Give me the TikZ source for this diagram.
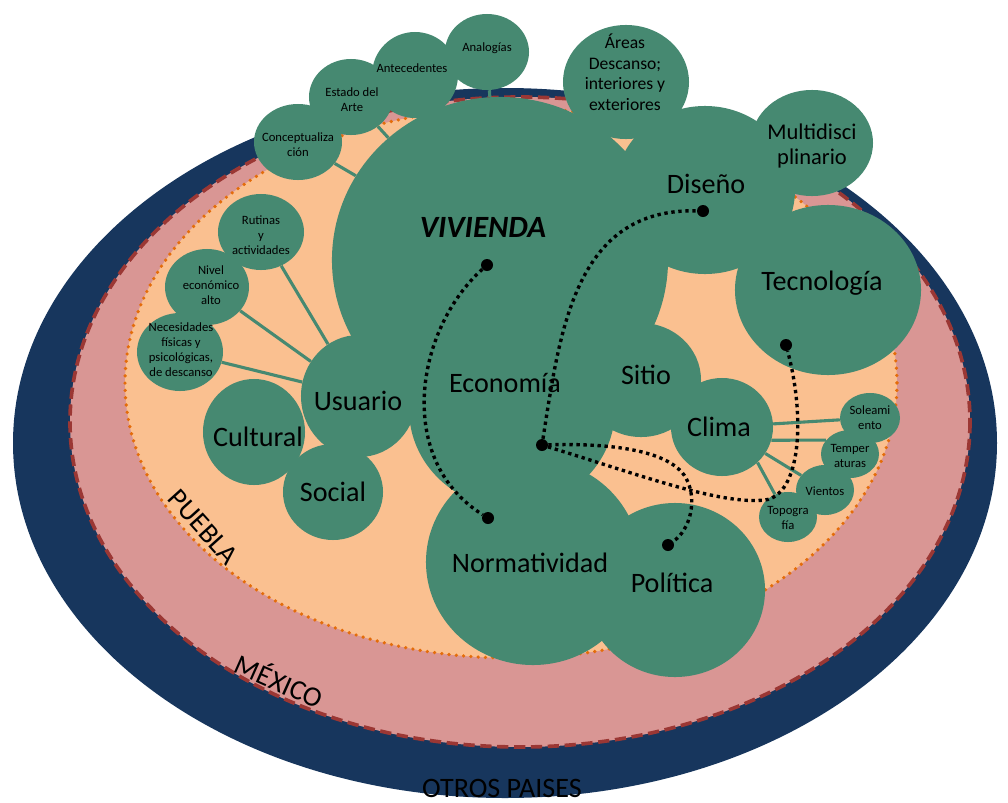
\documentclass[tikz,border=0pt]{standalone}
\usepackage{fontspec}
\setmainfont{Carlito}
\usetikzlibrary{shapes.geometric}

\definecolor{verde}{RGB}{70,137,113}
\definecolor{marino}{RGB}{23,54,93}
\definecolor{rosa}{RGB}{217,150,148}
\definecolor{durazno}{RGB}{250,192,144}
\definecolor{naranja}{RGB}{228,108,10}
\definecolor{vino}{RGB}{155,55,52}

\begin{document}
\begin{tikzpicture}[x=0.025cm,y=-0.025cm,
	burbuja/.style 2 args={ellipse,fill=verde,inner sep=0pt,minimum width=#1*0.5mm,minimum height=#2*0.5mm},
	enlace/.style={verde,line width=2.2pt},
	punto/.style={circle,fill=black,inner sep=0pt,minimum size=3mm},
	ruta/.style={black,line width=2.4pt,dash pattern=on 2.4pt off 2.6pt},
	grande/.style={font=\fontsize{20}{24}\selectfont},
	mediano/.style={font=\fontsize{12.5}{14.6}\selectfont,align=center},
	multi/.style={font=\fontsize{16}{17.8}\selectfont,align=center},
	chico/.style={font=\fontsize{9}{10.7}\selectfont,align=center}
	]
	\useasboundingbox (0,0) rectangle (1008,803);
	\fill[marino] (505,443) ellipse [x radius=492,y radius=355];
	\filldraw[fill=rosa,draw=vino,line width=2.6pt,dash pattern=on 8pt off 4pt] (520,422) ellipse [x radius=450,y radius=325];
	\filldraw[fill=durazno,draw=naranja,line width=2.6pt,line cap=round,dash pattern=on 0pt off 5.2pt] (511,383) ellipse [x radius=386,y radius=275];

	\node[burbuja={168}{163}] (vivienda) at (500,260) {};
	\node[burbuja={90}{84}] (diseno) at (705,190) {};
	\node[burbuja={93}{85}] (tecnologia) at (828,290) {};
	\node[burbuja={103}{99}] (economia) at (512,409) {};
	\node[burbuja={60}{57}] (sitio) at (641,380) {};
	\node[burbuja={51}{49}] (clima) at (722,427) {};
	\node[burbuja={107}{103}] (normatividad) at (533,562) {};
	\node[burbuja={90}{87}] (politica) at (675,590) {};
	\node[burbuja={58}{61}] (usuario) at (359,396) {};
	\node[burbuja={51}{53}] (cultural) at (254,432) {};
	\node[burbuja={50}{48}] (social) at (333,492) {};
	\node[burbuja={61}{53}] (multi) at (812,143) {};
	\node[burbuja={63}{57}] (areas) at (626,82) {};
	\node[burbuja={42}{38}] (analogias) at (487,52) {};
	\node[burbuja={43}{43}] (antecedentes) at (415,75) {};
	\node[burbuja={42}{38}] (estado) at (351,97) {};
	\node[burbuja={44}{38}] (concepto) at (298,142) {};
	\node[burbuja={43}{38}] (rutinas) at (261,232) {};
	\node[burbuja={42}{38}] (nivel) at (207,287) {};
	\node[burbuja={43}{39}] (necesidades) at (180,352) {};
	\node[burbuja={30}{25}] (soleamiento) at (870,418) {};
	\node[burbuja={29}{24}] (temperaturas) at (850,454) {};
	\node[burbuja={29}{25}] (vientos) at (825,490) {};
	\node[burbuja={29}{25}] (topografia) at (788,517) {};

	\draw[enlace] (concepto) -- (vivienda);
	\draw[enlace] (estado) -- (vivienda);
	\draw[enlace] (antecedentes) -- (vivienda);
	\draw[enlace] (analogias) -- (vivienda);
	\draw[enlace] (rutinas) -- (usuario);
	\draw[enlace] (nivel) -- (usuario);
	\draw[enlace] (necesidades) -- (usuario);
	\draw[enlace] (clima) -- (soleamiento);
	\draw[enlace] (clima.-15) -- (temperaturas.150);
	\draw[enlace] (clima) -- (vientos);
	\draw[enlace] (clima.-45) -- (topografia.120);

	\node[font=\fontsize{22}{26}\selectfont\bfseries\itshape] (t-vivienda) at (483,227) {VIVIENDA};
	\node[grande] (t-diseno) at (706,184) {Diseño};
	\node[grande] (t-tecnologia) at (822,283) {Tecnología};
	\node[grande] (t-economia) at (505,383) {Economía};
	\node[grande] (t-sitio) at (646,375) {Sitio};
	\node[grande] (t-clima) at (719,427) {Clima};
	\node[grande] (t-normatividad) at (530,563) {Normatividad};
	\node[grande] (t-politica) at (672,583) {Política};
	\node[grande] (t-usuario) at (358,401) {Usuario};
	\node[grande] (t-cultural) at (258,437) {Cultural};
	\node[grande] (t-social) at (333,492) {Social};
	\node[multi] (t-multi) at (812,146) {Multidisci\\plinario};
	\node[mediano] (t-areas) at (625,72) {Áreas\\Descanso;\\interiores y\\exteriores};
	\node[chico] (t-analogias) at (487,48) {Analogías};
	\node[chico] (t-antecedentes) at (412,68) {Antecedentes};
	\node[chico] (t-estado) at (352,100) {Estado del\\Arte};
	\node[chico] (t-concepto) at (298,145) {Conceptualiza\\ción};
	\node[chico] (t-rutinas) at (261,235) {Rutinas\\y\\actividades};
	\node[chico] (t-nivel) at (211,285) {Nivel\\económico\\alto};
	\node[chico] (t-necesidades) at (181,350) {Necesidades\\físicas y\\psicológicas,\\de descanso};
	\node[chico] (t-soleamiento) at (870,418) {Soleami\\ento};
	\node[chico] (t-temperaturas) at (850,456) {Temper\\aturas};
	\node[chico] (t-vientos) at (825,491) {Vientos};
	\node[chico] (t-topografia) at (788,518) {Topogra\\fía};

	\node[grande,rotate=-48] (t-puebla) at (203,527) {PUEBLA};
	\node[grande,rotate=-24] (t-mexico) at (280,680) {MÉXICO};
	\node[grande] (t-otros) at (502,788) {OTROS PAISES};

	\node[punto] (p-vivienda) at (487,265) {};
	\node[punto] (p-norma) at (488,518) {};
	\node[punto] (p-economia) at (542,445) {};
	\node[punto] (p-diseno) at (703,211) {};
	\node[punto] (p-politica) at (668,545) {};
	\node[punto] (p-tecno) at (786,345) {};

	\draw[ruta] (p-vivienda) .. controls (415,330) and (395,460) .. (p-norma);
	\draw[ruta] (p-economia) .. controls (560,330) and (575,208) .. (p-diseno);
	\draw[ruta] (p-economia) .. controls (610,443) and (670,450) .. (686,478) .. controls (698,500) and (690,530) .. (p-politica);
	\draw[ruta] (p-economia) .. controls (640,475) and (720,505) .. (765,500) .. controls (800,495) and (806,420) .. (p-tecno);
\end{tikzpicture}
\end{document}
